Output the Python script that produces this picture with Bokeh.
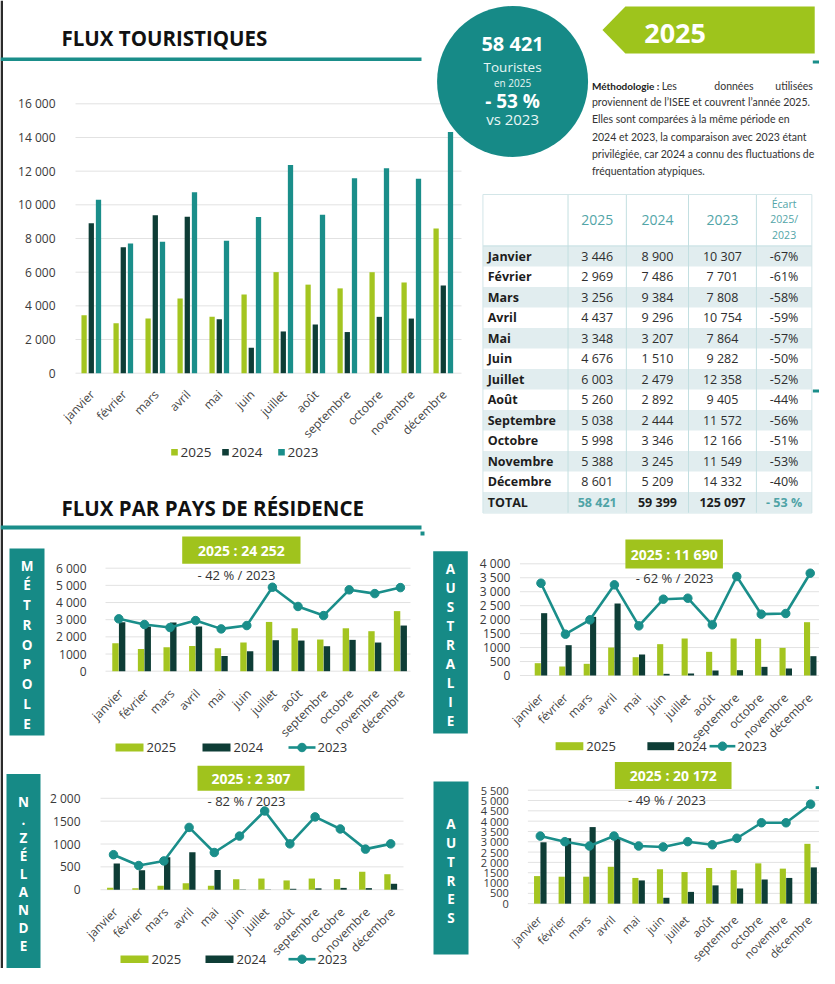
import math
from bokeh.plotting import figure
from bokeh.models import Range1d
from bokeh.embed import file_html
from bokeh.resources import INLINE
from bokeh.core.properties import value

# ---------------- DATA ----------------
months = ["janvier", "février", "mars", "avril", "mai", "juin", "juillet",
          "août", "septembre", "octobre", "novembre", "décembre"]
table_months = ["Janvier", "Février", "Mars", "Avril", "Mai", "Juin", "Juillet",
                "Août", "Septembre", "Octobre", "Novembre", "Décembre"]
years = ["2025", "2024", "2023"]

flux_2025 = [3446, 2969, 3256, 4437, 3348, 4676, 6003, 5260, 5038, 5998, 5388, 8601]
flux_2024 = [8900, 7486, 9384, 9296, 3207, 1510, 2479, 2892, 2444, 3346, 3245, 5209]
flux_2023 = [10307, 7701, 7808, 10754, 7864, 9282, 12358, 9405, 11572, 12166, 11549, 14332]
ecart_pct = ["-67%", "-61%", "-58%", "-59%", "-57%", "-50%", "-52%", "-44%",
             "-56%", "-51%", "-53%", "-40%"]
total_values = ["58 421", "59 399", "125 097"]
total_ecart = "- 53 %"
flux_ticks = [0, 2000, 4000, 6000, 8000, 10000, 12000, 14000, 16000]

kpi_total = "58 421"
kpi_pct = "- 53 %"

metro_2025 = [1630, 1300, 1400, 1475, 1340, 1670, 2870, 2500, 1845, 2500, 2330, 3500]
metro_2024 = [2855, 2600, 2835, 2600, 890, 1165, 1805, 1785, 1455, 1825, 1670, 2660]
metro_2023 = [3050, 2720, 2545, 2950, 2465, 2660, 4890, 3770, 3240, 4740, 4520, 4870]
metro_ticks = [0, 1000, 2000, 3000, 4000, 5000, 6000]

aus_2025 = [441, 322, 418, 1002, 656, 1122, 1325, 847, 1325, 1313, 990, 1909]
aus_2024 = [2232, 1086, 2100, 2578, 752, 60, 72, 179, 191, 310, 251, 692]
aus_2023 = [3305, 1480, 1993, 3246, 1778, 2733, 2768, 1814, 3544, 2196, 2220, 3663]
aus_ticks = [0, 500, 1000, 1500, 2000, 2500, 3000, 3500, 4000]

nz_2025 = [41, 34, 88, 142, 88, 231, 244, 203, 244, 231, 393, 339]
nz_2024 = [576, 427, 712, 820, 434, 5, 5, 20, 30, 40, 35, 130]
nz_2023 = [766, 529, 630, 1363, 814, 1173, 1722, 1003, 1593, 1329, 888, 1003]
nz_ticks = [0, 500, 1000, 1500, 2000]

aut_2025 = [1337, 1307, 1307, 1788, 1247, 1668, 1533, 1728, 1623, 1954, 1698, 2900]
aut_2024 = [2975, 3171, 3712, 3150, 1127, 285, 571, 887, 736, 1172, 1247, 1758]
aut_2023 = [3276, 3005, 2795, 3276, 2795, 2750, 3005, 2855, 3171, 3922, 3922, 4824]
aut_ticks = [0, 500, 1000, 1500, 2000, 2500, 3000, 3500, 4000, 4500, 5000, 5500]

segments = ["MÉTROPOLE", "AUSTRALIE", "N.ZÉLANDE", "AUTRES"]
segment_totals_2025 = ["24 252", "11 690", "2 307", "20 172"]
segment_pct_vs_2023 = ["- 42 %", "- 62 %", "- 82 %", "- 49 %"]

# ---------------- STYLE ----------------
W, H = 819, 968
GREEN = "#a4c520"
DARK = "#0e3d36"
TEAL = "#1a8e8a"
BOX = "#168a86"
BADGE = "#a0c31d"
GRID = "#e2e2e2"
TXT = "#333333"
FONT = "Open Sans"

# layout mapping (reference-sized layout squeezed to the page on the right/bottom)
XB, YB = 470.0, 755.0


def X(r):
    return r if r <= XB else XB + (r - XB) * (W - XB) / (835.0 - XB)


def Y(r):
    return r if r <= YB else YB + (r - YB) * (H - YB) / (984.0 - YB)


def fmt_sp(v):
    return f"{v:,}".replace(",", " ")


def fmt_tick(v):
    return fmt_sp(v) if v >= 2000 else str(v)


p = figure(width=W, height=H, x_range=Range1d(0, W), y_range=Range1d(H, 0),
           output_backend="svg", toolbar_location=None, min_border=0,
           x_axis_location=None, y_axis_location=None)
p.grid.visible = False
p.outline_line_color = None
p.background_fill_color = "white"
p.border_fill_color = "white"


def ptext(x, y, s, size, color=TXT, font=FONT, bold=False, align="left",
          baseline="middle"):
    p.text(x=[X(x)], y=[Y(y)], text=[s], text_font=value(font),
           text_font_size=f"{size}px",
           text_font_style="bold" if bold else "normal",
           text_color=color, text_align=align, text_baseline=baseline)


def pquad(l, r, t, b, color):
    p.quad(left=[X(l)], right=[X(r)], top=[Y(t)], bottom=[Y(b)],
           fill_color=color, line_color=None)


# ---------------- chart helper ----------------
def add_chart(name, m0, dm, y0, ytop, vtop, frame, ticks, lab_right, bars,
              offsets, bar_w, colors, line=None, tick_size=12, month_size=12,
              lab_dx=2, lab_dy=20):
    n_m = len(months)
    cx0 = X(m0)
    cdx = (X(m0 + dm * (n_m - 1)) - cx0) / (n_m - 1)
    p.extra_x_ranges[name] = Range1d(start=-cx0 / cdx, end=(W - cx0) / cdx)
    cy0, cy1 = Y(y0), Y(ytop)
    k = vtop / (cy0 - cy1)
    p.extra_y_ranges[name] = Range1d(start=(cy0 - H) * k, end=cy0 * k)
    n = len(ticks)
    p.segment(x0=[X(frame[0])] * n, x1=[X(frame[1])] * n, y0=ticks, y1=ticks,
              y_range_name=name, line_color=GRID, line_width=1)
    p.text(x=[X(lab_right)] * n, y=ticks, text=[fmt_tick(t) for t in ticks],
           y_range_name=name, text_font=value(FONT),
           text_font_size=f"{tick_size}px", text_color="#3a3a3a",
           text_align="right", text_baseline="middle")
    idx = list(range(n_m))
    for vals, off, col in zip(bars, offsets, colors):
        p.vbar(x=[i + off for i in idx], top=vals, bottom=0, width=bar_w,
               x_range_name=name, y_range_name=name, fill_color=col,
               line_color=None)
    if line is not None:
        p.line(x=idx, y=line, x_range_name=name, y_range_name=name,
               line_color=TEAL, line_width=2.6)
        p.scatter(x=idx, y=line, x_range_name=name, y_range_name=name,
                  size=8.5, fill_color=TEAL, line_color=TEAL)
    p.text(x=idx, y=[0] * n_m, text=months, x_range_name=name,
           y_range_name=name, angle=math.pi / 4, x_offset=lab_dx,
           y_offset=lab_dy, text_font=value(FONT),
           text_font_size=f"{month_size}px", text_color="#444444",
           text_align="right", text_baseline="middle")


def small_legend(y, g, d, ln):
    for (l, r), col, lab in ((g, GREEN, years[0]), (d, DARK, years[1])):
        pquad(l, r, y - 4, y + 4, col)
        ptext(r + 3, y, lab, 13)
    p.line(x=[X(ln[0]), X(ln[1])], y=[Y(y), Y(y)], line_color=TEAL, line_width=2.6)
    p.scatter(x=[X((ln[0] + ln[1]) / 2)], y=[Y(y)], size=8.5, fill_color=TEAL,
              line_color=TEAL)
    ptext(ln[1] + 2, y, years[2], 13)


def side_box(l, r, t, b, word, y_first, step):
    pquad(l, r, t, b, BOX)
    letters = list(word)
    p.text(x=[X((l + r) / 2)] * len(letters),
           y=[Y(y_first + step * j) for j in range(len(letters))],
           text=letters, text_font=value(FONT), text_font_size="13.5px",
           text_font_style="bold", text_color="white", text_align="center",
           text_baseline="middle")


def badge(l, r, t, b, total, pct, sub_x, sub_y):
    pquad(l, r, t, b, BADGE)
    ptext((l + r) / 2, (t + b) / 2, f"{years[0]} : {total}", 14,
          color="white", bold=True, align="center")
    ptext(sub_x, sub_y, f"{pct} / {years[2]}", 13, align="center")


# ---------------- decorations top ----------------
pquad(0, 2.5, 0, 984, "#2b2b2b")
ptext(61, 37, "FLUX TOURISTIQUES", 20.5, color="#111111", bold=True)
pquad(0, 421, 57, 60.5, TEAL)

# main chart
add_chart("flux", 90.8, 32, 372.7, 103.3, 16000, (75, 461), flux_ticks, 55,
          [flux_2025, flux_2024, flux_2023], [-0.225, 0, 0.225], 0.165,
          [GREEN, DARK, TEAL], tick_size=12, month_size=12, lab_dx=1,
          lab_dy=19)
for cx, col, lab in ((174, GREEN, years[0]), (225, DARK, years[1]),
                     (281, TEAL, years[2])):
    pquad(cx - 3.3, cx + 3.3, 448.5, 455, col)
    ptext(cx + 6, 451.7, lab, 13.5)

# circle KPI
p.circle(x=[X(514)], y=[Y(81)], radius=75.5, fill_color="#168a87",
         line_color=None)
ptext(514, 43, kpi_total, 20, color="white", bold=True, align="center")
ptext(514, 66, "Touristes", 13.5, color="#e8f6f5", align="center")
ptext(514, 82, f"en {years[0]}", 10, color="#e8f6f5", align="center")
ptext(514, 100, kpi_pct, 19, color="white", bold=True, align="center")
ptext(514, 118, f"vs {years[2]}", 15, color="#e8f6f5", align="center")

# banner 2025
p.patch(x=[X(608), X(632), X(830), X(830), X(632)],
        y=[Y(29.5), Y(6), Y(6), Y(53), Y(53)], fill_color="#9ec41c",
        line_color=None)
ptext(684, 33, years[0], 27, color="white", bold=True, align="center")
for (l, r, t, b) in ((828, 835, 60, 63), (828, 835, 389, 392),
                     (420, 424, 531, 535), (831, 835, 788, 791)):
    pquad(l, r, t, b, TEAL)

# methodology
MF = "Lato"
ptext(597, 85, "Méthodologie :", 10, color="#222222", font=MF, bold=True)
ptext(670, 85, "Les", 10.5, font=MF)
ptext(725, 85, "données", 10.5, font=MF)
ptext(828, 85, "utilisées", 10.5, font=MF, align="right")
meth_lines = ["proviennent de l’ISEE et couvrent l’année 2025.",
              "Elles sont comparées à la même période en",
              "2024 et 2023, la comparaison avec 2023 étant",
              "privilégiée, car 2024 a connu des fluctuations de",
              "fréquentation atypiques."]
for j, s in enumerate(meth_lines):
    ptext(597, 101.7 + 17.15 * j, s, 10.5, font=MF)

# ---------------- table ----------------
T_L, T_R, T_T, T_B = 483, 827, 194, 512.5
col_c = [602.5, 665.5, 733.5, 798]
col_sep = [572, 633, 698, 769]
ROW0, ROWH = 255.7, 20.5
n_rows = len(table_months) + 1
for j in range(0, n_rows, 2):
    pquad(T_L, T_R, ROW0 + ROWH * j - ROWH / 2, ROW0 + ROWH * j + ROWH / 2,
          "#e1edef")
p.segment(x0=[X(c) for c in col_sep], x1=[X(c) for c in col_sep],
          y0=[Y(T_T)] * 4, y1=[Y(T_B)] * 4, line_color="#c3dfe1", line_width=1)
p.segment(x0=[X(T_L)], x1=[X(T_R)], y0=[Y(245.4)], y1=[Y(245.4)],
          line_color="#c3dfe1", line_width=1)
p.quad(left=[X(T_L)], right=[X(T_R)], top=[Y(T_T)], bottom=[Y(T_B)],
       fill_color=None, line_color="#d3e6e8", line_width=1)
HC = "#52a5a8"
for c, yv in zip(col_c[:3], years):
    ptext(c, 219, yv, 14, color=HC, align="center")
ptext(col_c[3], 203, "Écart", 10.5, color=HC, align="center")
ptext(col_c[3], 218.5, f"{years[0]}/", 10.5, color=HC, align="center")
ptext(col_c[3], 234, years[2], 10.5, color=HC, align="center")

row_y = [Y(ROW0 + ROWH * j) for j in range(len(table_months))]
p.text(x=[X(488)] * len(row_y), y=row_y, text=table_months,
       text_font=value(FONT), text_font_size="12.5px", text_font_style="bold",
       text_color="#1d1d1d", text_align="left", text_baseline="middle")
for c, vals in zip(col_c[:3], (flux_2025, flux_2024, flux_2023)):
    p.text(x=[X(c)] * len(row_y), y=row_y, text=[fmt_sp(v) for v in vals],
           text_font=value(FONT), text_font_size="12.5px", text_color="#2e2e2e",
           text_align="center", text_baseline="middle")
p.text(x=[X(col_c[3])] * len(row_y), y=row_y, text=ecart_pct,
       text_font=value(FONT), text_font_size="12.5px", text_color="#2e2e2e",
       text_align="center", text_baseline="middle")
ty = ROW0 + ROWH * len(table_months)
ptext(488, ty, "TOTAL", 12.5, color="#1d1d1d", bold=True)
for c, s, col in zip(col_c, total_values + [total_ecart],
                     ["#4fa3a6", "#1d1d1d", "#1d1d1d", "#4fa3a6"]):
    ptext(c, ty, s, 12.5, color=col, bold=True, align="center")

# ---------------- section 2 ----------------
ptext(61, 507.5, "FLUX PAR PAYS DE RÉSIDENCE", 20.5, color="#111111", bold=True)
pquad(0, 421, 525, 529, TEAL)

# Métropole
side_box(9, 44, 548, 735, segments[0], 565, 19.75)
add_chart("metro", 118.3, 25.6, 670.7, 567.7, 6000, (105, 410), metro_ticks, 86,
          [metro_2025, metro_2024], [-0.13, 0.13], 0.25, [GREEN, DARK],
          line=metro_2023)
badge(181.7, 300, 536, 563.3, segment_totals_2025[0], segment_pct_vs_2023[0],
      236, 574)
small_legend(747, (115, 143), (202, 230), (288, 315))

# Australie
side_box(432.7, 467.3, 550.7, 733, segments[1], 568.3, 19)
add_chart("aus", 543.7, 25.6, 675, 563.3, 4000, (521.7, 835), aus_ticks, 511.7,
          [aus_2025, aus_2024], [-0.13, 0.13], 0.25, [GREEN, DARK],
          line=aus_2023, lab_dx=0)
badge(632, 734, 539, 568, segment_totals_2025[1], segment_pct_vs_2023[1],
      683.5, 577)
small_legend(745.7, (559, 588), (655, 683), (720, 747))

# N. Zélande
side_box(6, 40, 775, 995, segments[2], 805, 19.4)
add_chart("nz", 113, 25.2, 899.3, 801, 2000, (100, 403), nz_ticks, 80,
          [nz_2025, nz_2024], [-0.13, 0.13], 0.25, [GREEN, DARK],
          line=nz_2023)
badge(197, 304, 766, 793, segment_totals_2025[2], segment_pct_vs_2023[2],
      246, 804)
small_legend(974, (120, 148), (205, 233), (288, 315))

# Autres
side_box(433, 468, 783, 969, segments[3], 829, 20.2)
add_chart("aut", 543, 25.7, 914.3, 792.3, 5500, (530, 835), aut_ticks, 510,
          [aut_2025, aut_2024], [-0.13, 0.13], 0.25, [GREEN, DARK],
          line=aut_2023, tick_size=11, month_size=11.5, lab_dx=-1, lab_dy=14)
badge(621, 743, 762, 791, segment_totals_2025[3], segment_pct_vs_2023[3],
      675.5, 803)

open("out.html", "w").write(file_html(p, INLINE))
